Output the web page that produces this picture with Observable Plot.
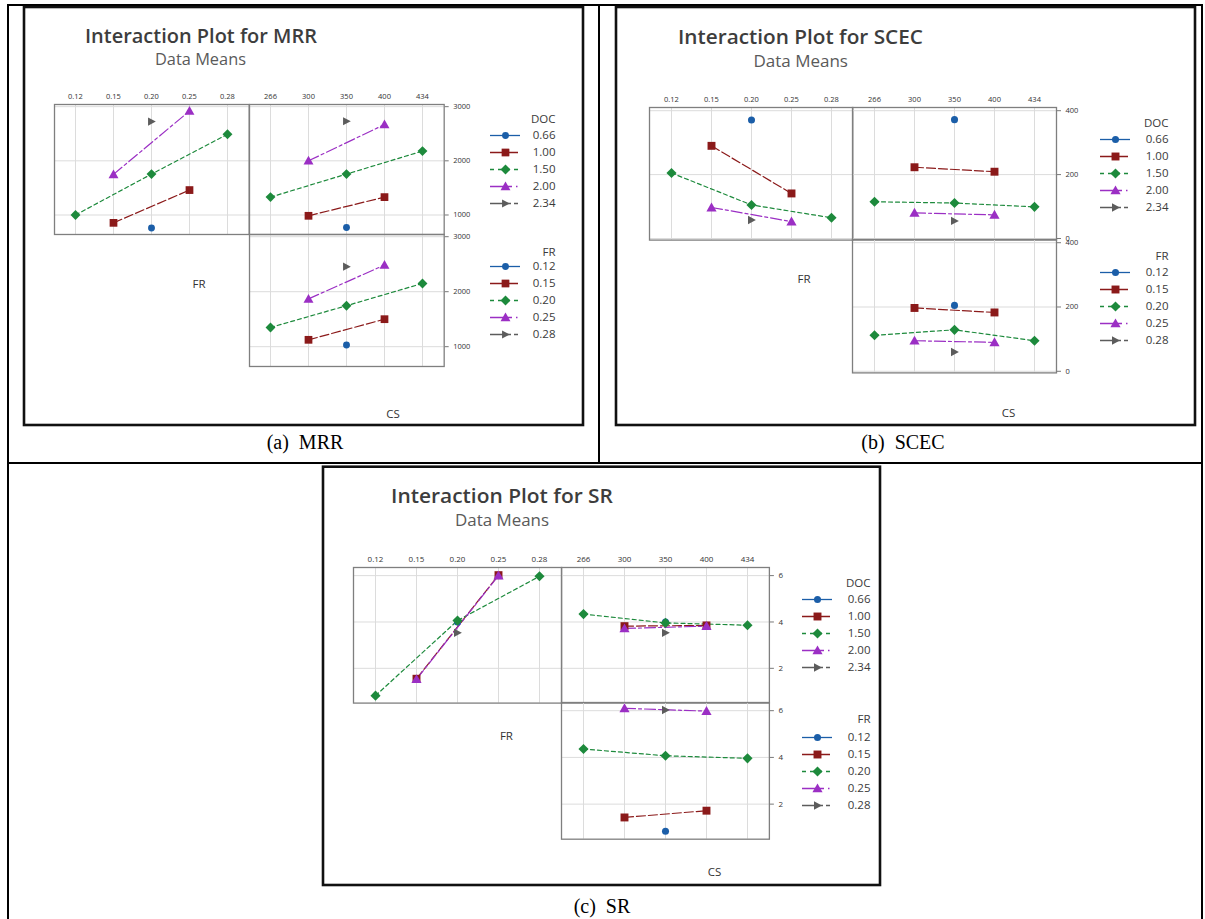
<!DOCTYPE html>
<html><head><meta charset="utf-8">
<script src="https://cdn.jsdelivr.net/npm/d3@7"></script>
<script src="https://cdn.jsdelivr.net/npm/@observablehq/plot@0.6"></script>
<style>
html,body{margin:0;padding:0;background:#fff;}
body{width:1205px;height:919px;overflow:hidden;position:relative;font-family:"Open Sans",sans-serif;}
.pl{position:absolute;}
</style></head><body>
<script>
// ---------- categories ----------
const FR_levels  = ["0.12","0.15","0.20","0.25","0.28"];
const CS_levels  = ["266","300","350","400","434"];
const DOC_levels = ["0.66","1.00","1.50","2.00","2.34"];

// ---------- data means: [series level, x level, mean] ----------
// MRR
const MRR_FR_byDOC = [
  ["0.66","0.20",760],
  ["1.00","0.15",855],["1.00","0.25",1460],
  ["1.50","0.12",1000],["1.50","0.20",1755],["1.50","0.28",2490],
  ["2.00","0.15",1750],["2.00","0.25",2920],
  ["2.34","0.20",2725]
];
const MRR_CS_byDOC = [
  ["0.66","350",770],
  ["1.00","300",985],["1.00","400",1330],
  ["1.50","266",1330],["1.50","350",1755],["1.50","434",2180],
  ["2.00","300",2000],["2.00","400",2670],
  ["2.34","350",2730]
];
const MRR_CS_byFR = [
  ["0.12","350",1030],
  ["0.15","300",1125],["0.15","400",1500],
  ["0.20","266",1350],["0.20","350",1745],["0.20","434",2150],
  ["0.25","300",1870],["0.25","400",2485],
  ["0.28","350",2455]
];
// SCEC
const SCEC_FR_byDOC = [
  ["0.66","0.20",371],
  ["1.00","0.15",290],["1.00","0.25",141],
  ["1.50","0.12",205],["1.50","0.20",105],["1.50","0.28",65],
  ["2.00","0.15",97],["2.00","0.25",53],
  ["2.34","0.20",58]
];
const SCEC_CS_byDOC = [
  ["0.66","350",372],
  ["1.00","300",223],["1.00","400",209],
  ["1.50","266",115],["1.50","350",111],["1.50","434",99],
  ["2.00","300",80],["2.00","400",74],
  ["2.34","350",55]
];
const SCEC_CS_byFR = [
  ["0.12","350",205],
  ["0.15","300",197],["0.15","400",183],
  ["0.20","266",112],["0.20","350",129],["0.20","434",95],
  ["0.25","300",95],["0.25","400",90],
  ["0.28","350",60]
];
// SR
const SR_FR_byDOC = [
  ["0.66","0.20",4.0],
  ["1.00","0.15",1.55],["1.00","0.25",6.02],
  ["1.50","0.12",0.82],["1.50","0.20",4.06],["1.50","0.28",5.97],
  ["2.00","0.15",1.53],["2.00","0.25",6.0],
  ["2.34","0.20",3.53]
];
const SR_CS_byDOC = [
  ["0.66","350",4.0],
  ["1.00","300",3.82],["1.00","400",3.85],
  ["1.50","266",4.34],["1.50","350",3.96],["1.50","434",3.86],
  ["2.00","300",3.72],["2.00","400",3.82],
  ["2.34","350",3.53]
];
const SR_CS_byFR = [
  ["0.12","350",0.84],
  ["0.15","300",1.43],["0.15","400",1.72],
  ["0.20","266",4.36],["0.20","350",4.07],["0.20","434",3.96],
  ["0.25","300",6.1],["0.25","400",5.98],
  ["0.28","350",6.03]
];
// axis ticks
const MRR_ticks  = [1000,2000,3000];
const SCEC_ticks = [0,200,400];
const SR_ticks   = [2,4,6];

// ---------- symbols ----------
const R = s => Math.sqrt(s/Math.PI);
const symCircle   = {draw(c,s){const r=R(s)*0.8; c.moveTo(r,0); c.arc(0,0,r,0,2*Math.PI);}};
const symSquare   = {draw(c,s){const r=R(s)*0.9; c.moveTo(-r,-r); c.lineTo(r,-r); c.lineTo(r,r); c.lineTo(-r,r); c.closePath();}};
const symDiamond  = {draw(c,s){const r=R(s)*1.15; c.moveTo(0,-r); c.lineTo(r,0); c.lineTo(0,r); c.lineTo(-r,0); c.closePath();}};
const symTriUp    = {draw(c,s){const r=R(s)*1.1; c.moveTo(0,-1.05*r); c.lineTo(1.05*r,0.8*r); c.lineTo(-1.05*r,0.8*r); c.closePath();}};
const symTriRight = {draw(c,s){const r=R(s)*1.0; c.moveTo(1.0*r,0); c.lineTo(-0.8*r,-0.95*r); c.lineTo(-0.8*r,0.95*r); c.closePath();}};

const STY = [
  {color:"#1b5ea8", sym:symCircle,   dash:undefined,  ldash:undefined},
  {color:"#8b1a1a", sym:symSquare,   dash:"9,3",      ldash:"13,2"},
  {color:"#1d8a3c", sym:symDiamond,  dash:"4,3",      ldash:"4,4"},
  {color:"#9b2fc4", sym:symTriUp,    dash:"11,3,3,3", ldash:"22,4,1.5,4"},
  {color:"#5c5c5c", sym:symTriRight, dash:"8,3,3,3",  ldash:"21,3,4,3"}
];

const FONT = "'Open Sans', sans-serif";

function place(el, left, top){
  const d = document.createElement("div");
  d.className = "pl"; d.style.left = left+"px"; d.style.top = top+"px";
  d.appendChild(el); document.body.appendChild(d);
}

function subplot(rows, keys, xdom, P, box, topAxis, rightAxis){
  const [x0,x1,y0,y1] = box;
  const mL=3, mR=rightAxis?36:3, mT=topAxis?20:3, mB=3;
  const marks = [
    Plot.ruleX(xdom, {stroke:"#dcdcdc", strokeWidth:1}),
    Plot.ruleY(P.yticks, {stroke:"#dcdcdc", strokeWidth:1})
  ];
  keys.forEach((k,i)=>{
    const s = rows.filter(r=>r[0]===k);
    if (s.length>1) marks.push(Plot.line(s,{x:r=>r[1], y:r=>r[2], stroke:STY[i].color, strokeWidth:1.2, strokeDasharray:STY[i].dash}));
  });
  keys.forEach((k,i)=>{
    const s = rows.filter(r=>r[0]===k);
    marks.push(Plot.dot(s,{x:r=>r[1], y:r=>r[2], fill:STY[i].color, stroke:"none", symbol:STY[i].sym, r:P.r}));
  });
  marks.push(Plot.frame({stroke:"#7f7f7f", strokeWidth:1.3}));
  if (topAxis) marks.push(Plot.axisX({anchor:"top", tickSize:0, tickPadding:5, fontSize:P.fs, label:null, fill:"#333"}));
  if (rightAxis) marks.push(Plot.axisY(P.yticks, {anchor:"right", tickSize:4, tickPadding:5, fontSize:P.rfs, label:null, tickFormat:d3.format("d"), fill:"#333", stroke:"#777"}));
  const svg = Plot.plot({
    width: x1-x0+mL+mR, height: y1-y0+mT+mB,
    marginLeft:mL, marginRight:mR, marginTop:mT, marginBottom:mB,
    x:{type:"point", domain:xdom, padding:0.5, axis:null},
    y:{domain:P.ydom, axis:null},
    style:{fontFamily:FONT, color:"#3a3a3a", background:"transparent", overflow:"visible"},
    marks
  });
  place(svg, x0-mL, y0-mT);
}

function legend(title, keys, P, spec){
  const [ty, y0, step] = spec;
  const sym = P.leg.sym, lab = P.leg.lab;
  const w = 18 + lab + 6;
  const top = y0 - step - 10;
  const ylast = y0 + 4*step;
  const h = ylast - top + 12;
  const marks = [];
  keys.forEach((k,i)=>{
    marks.push(Plot.ruleY([k], {x1:3, x2:33, stroke:STY[i].color, strokeWidth:1.3, strokeDasharray:STY[i].ldash}));
    marks.push(Plot.dot([k], {x:18, y:d=>d, fill:STY[i].color, stroke:"none", symbol:STY[i].sym, r:P.r}));
  });
  marks.push(Plot.text(keys, {x:18+lab, y:d=>d, text:d=>d, textAnchor:"end", fontSize:P.lfs, fill:"#3a3a3a"}));
  marks.push(Plot.text([title], {x:18+lab, y:d=>d, text:d=>d, dy: ty-(y0-step)-1.5, textAnchor:"end", fontSize:P.lfs, fill:"#3a3a3a"}));
  const svg = Plot.plot({
    width:w, height:h, margin:0,
    x:{domain:[0,w], range:[0,w], axis:null},
    y:{type:"point", padding:0, domain:[title,...keys], range:[y0-step-top, ylast-top], axis:null},
    style:{fontFamily:FONT, background:"transparent", overflow:"visible"},
    marks
  });
  place(svg, sym-18, top);
}

// ---------- layout ----------
const PANELS = [
  {title:"Interaction Plot for MRR", caption:"(a)  MRR",
   data:[MRR_FR_byDOC, MRR_CS_byDOC, MRR_CS_byFR], ydom:[640,3040], yticks:MRR_ticks,
   frame:[24,7,583,425], tl:[54.3,249,104,234], tr:[249,443.7,104,234], bt:[249,443.7,234,366],
   ttl:[201,35,232,19.5], dm:[200.5,59,91,15.5], frL:[199,283], csL:[393,413],
   leg:{sym:505, lab:50, doc:[119,134.2,17.25], fr:[251.7,265,17.5]},
   cap:[305,442], fs:7.5, rfs:7.5, lfs:11.5, r:4.3},
  {title:"Interaction Plot for SCEC", caption:"(b)  SCEC",
   data:[SCEC_FR_byDOC, SCEC_CS_byDOC, SCEC_CS_byFR], ydom:[-5,410], yticks:SCEC_ticks,
   frame:[616,7,1195,425], tl:[648.7,852,106.7,239.3], tr:[852,1056,106.7,239.3], bt:[852,1056,239.3,372.7],
   ttl:[800.5,36,245,20], dm:[800.7,60.7,94.5,16], frL:[804,278], csL:[1008.5,412],
   leg:{sym:1114.7, lab:53, doc:[122.7,137.7,17.8], fr:[256,271,17.8]},
   cap:[903,442], fs:7.5, rfs:7.5, lfs:11.5, r:4.4},
  {title:"Interaction Plot for SR", caption:"(c)  SR",
   data:[SR_FR_byDOC, SR_CS_byDOC, SR_CS_byFR], ydom:[0.5,6.35], yticks:SR_ticks,
   frame:[323,466.7,880,885], tl:[352.9,561,566.7,702.3], tr:[561,768.9,566.7,702.3], bt:[561,768.9,702.3,839],
   ttl:[502,495,222,20.5], dm:[502,520,94,16], frL:[506.4,735], csL:[714.6,871.7],
   leg:{sym:817, lab:53, doc:[582.7,597.7,17.8], fr:[718.3,735.7,17.6]},
   cap:[602,906], fs:8, rfs:8, lfs:11.5, r:4.4}
];

// ---------- background: table, frames, titles ----------
const ov = d3.select("body").append("svg")
  .attr("width",1205).attr("height",919)
  .style("position","absolute").style("left","0px").style("top","0px");
const tl = (x1,y1,x2,y2,w)=>ov.append("line").attr("x1",x1).attr("y1",y1).attr("x2",x2).attr("y2",y2)
  .attr("stroke","#000").attr("stroke-width",w||2);
tl(7,5,1203,5); tl(8,4,8,919); tl(1202,4,1202,919); tl(7,463,1203,463); tl(599,5,599,463);

PANELS.forEach(P=>{
  const [fx0,fy0,fx1,fy1] = P.frame;
  ov.append("rect").attr("x",fx0).attr("y",fy0).attr("width",fx1-fx0).attr("height",fy1-fy0)
    .attr("fill","#fff").attr("stroke","#111").attr("stroke-width",2.6);
  ov.append("text").attr("x",P.ttl[0]).attr("y",P.ttl[1]).attr("text-anchor","middle").attr("dominant-baseline","central")
    .attr("font-family",FONT).attr("font-weight",600).attr("font-size",P.ttl[3]).attr("fill","#3d3d3d")
    .attr("textLength",P.ttl[2]).attr("lengthAdjust","spacingAndGlyphs").text(P.title);
  ov.append("text").attr("x",P.dm[0]).attr("y",P.dm[1]).attr("text-anchor","middle").attr("dominant-baseline","central")
    .attr("font-family",FONT).attr("font-size",P.dm[3]).attr("fill","#5a5a5a")
    .attr("textLength",P.dm[2]).attr("lengthAdjust","spacingAndGlyphs").text("Data Means");
  ov.append("text").attr("x",P.frL[0]).attr("y",P.frL[1]).attr("text-anchor","middle").attr("dominant-baseline","central")
    .attr("font-family",FONT).attr("font-size",11.5).attr("fill","#333").text("FR");
  ov.append("text").attr("x",P.csL[0]).attr("y",P.csL[1]).attr("text-anchor","middle").attr("dominant-baseline","central")
    .attr("font-family",FONT).attr("font-size",11.5).attr("fill","#333").text("CS");
  ov.append("text").attr("x",P.cap[0]).attr("y",P.cap[1]).attr("text-anchor","middle").attr("dominant-baseline","central")
    .attr("font-family","'Liberation Serif', 'Times New Roman', serif").attr("font-size",20).attr("fill","#000")
    .style("white-space","pre").text(P.caption);
});

// ---------- plots ----------
PANELS.forEach(P=>{
  subplot(P.data[0], DOC_levels, FR_levels, P, P.tl, true, false);
  subplot(P.data[1], DOC_levels, CS_levels, P, P.tr, true, true);
  subplot(P.data[2], FR_levels,  CS_levels, P, P.bt, false, true);
  legend("DOC", DOC_levels, P, P.leg.doc);
  legend("FR",  FR_levels,  P, P.leg.fr);
});
</script>
</body></html>
